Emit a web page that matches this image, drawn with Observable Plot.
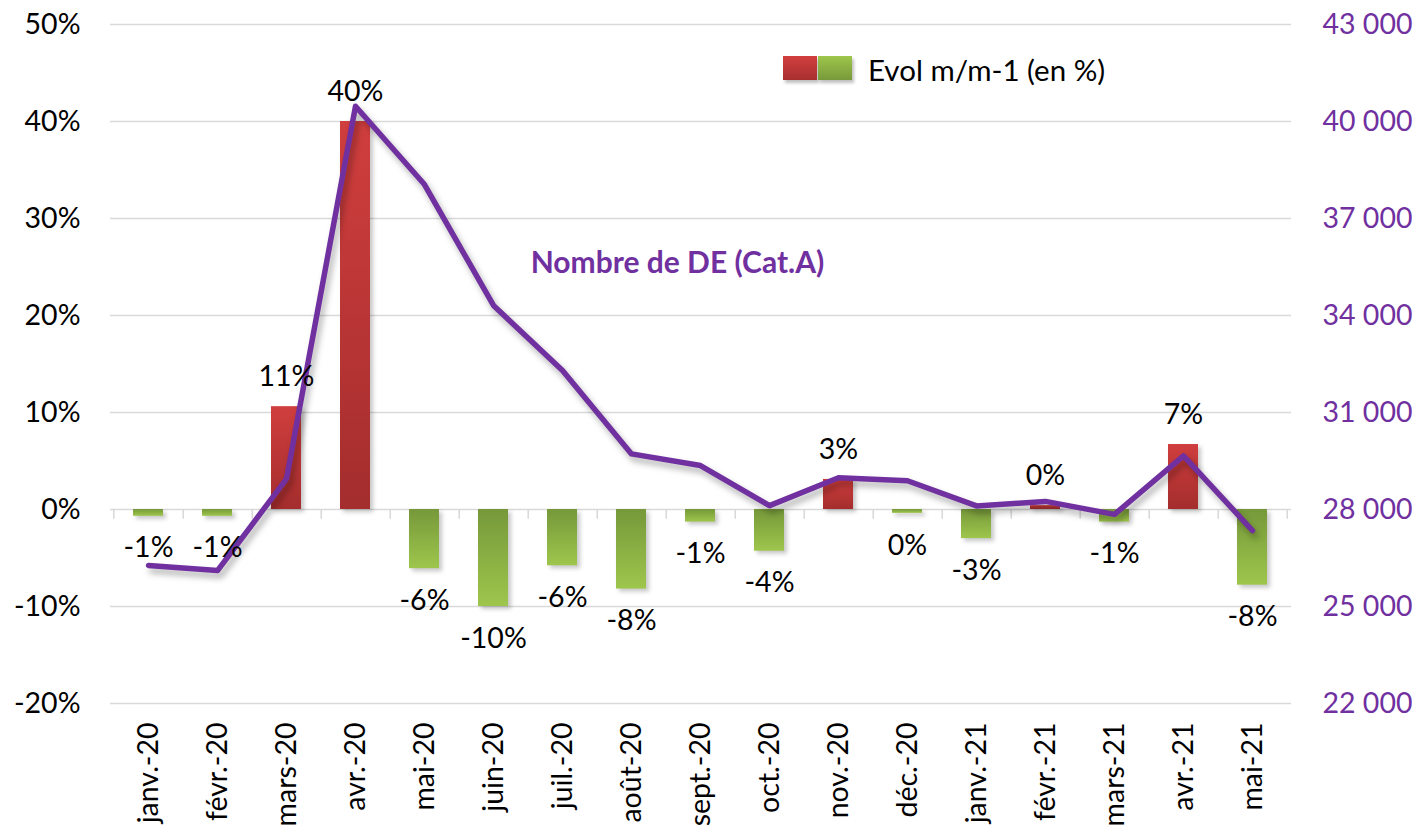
<!DOCTYPE html>
<html><head><meta charset="utf-8">
<script src="https://cdn.jsdelivr.net/npm/d3@7"></script>
<script src="https://cdn.jsdelivr.net/npm/@observablehq/plot@0.6"></script>
<style>
body{margin:0;background:#fff;font-family:Lato,"Open Sans",sans-serif;}
#wrap{position:relative;width:1412px;height:833px;}
#legend{position:absolute;left:783px;top:56px;height:25px;}
.sw{position:absolute;top:0;width:34px;height:24px;box-shadow:2px 3px 3px rgba(0,0,0,0.25);}
#sw1{left:0;background:linear-gradient(#d23f3f,#a82f2f);}
#sw2{left:35px;background:linear-gradient(#9ec64c,#78993a);}
#legtxt{position:absolute;left:85px;top:-4px;font-size:29.5px;white-space:nowrap;color:#000;}
</style></head><body>
<div id="wrap"><div id="legend"><div class="sw" id="sw1"></div><div class="sw" id="sw2"></div><div id="legtxt">Evol m/m-1 (en %)</div></div></div>
<script>
const months = ["janv.-20","févr.-20","mars-20","avr.-20","mai-20","juin-20","juil.-20","août-20","sept.-20","oct.-20","nov.-20","déc.-20","janv.-21","févr.-21","mars-21","avr.-21","mai-21"];
const evol = [-0.7,-0.7,10.6,40.0,-6.1,-10.0,-5.8,-8.2,-1.3,-4.3,3.1,-0.4,-3.0,0.4,-1.3,6.7,-7.8];
const nombre = [26270,26110,28950,40470,38050,34310,32300,29720,29360,28120,28980,28890,28110,28250,27850,29660,27350];
const leftTicks = [-20,-10,0,10,20,30,40,50];
const rightTicks = [22000,25000,28000,31000,34000,37000,40000,43000];
const lineTitle = "Nombre de DE (Cat.A)";

const BASE = 28000, PER10 = 3000;
const toPct = v => (v - BASE) / PER10 * 10;
const fromPct = p => BASE + p / 10 * PER10;
const fmt = v => d3.format(",")(Math.round(v)).replace(/,/g, "\u00a0");
const data = months.map((m, i) => ({month: m, evol: evol[i], nombre: nombre[i]}));
const pos = data.filter(d => d.evol >= 0);
const neg = data.filter(d => d.evol < 0);
const label = d => `${Math.round(d.evol) === 0 ? 0 : Math.round(d.evol)}%`;

const W = 1412, H = 833, ML = 110, MR = 121;
const step = (W - ML - MR) / months.length;
const purple = "#7030a0";

const svg = Plot.plot({
  width: W, height: H,
  marginLeft: ML, marginRight: MR, marginTop: 24, marginBottom: 130,
  style: {fontFamily: "Lato, 'Open Sans', sans-serif", fontSize: "28.5px", color: "#000", background: "#fff"},
  x: {domain: months, paddingInner: 0.56, paddingOuter: 0.28, label: null},
  y: {domain: [-20, 50], label: null},
  marks: [
    Plot.gridY(leftTicks, {stroke: "#d9d9d9", strokeOpacity: 1, strokeWidth: 1.6}),
    Plot.ruleX(months, {x: d => d, y1: 0, y2: -1, dx: step / 2, stroke: "#d9d9d9", strokeWidth: 1.6}),
    Plot.ruleX(months.slice(0, 1), {x: d => d, y1: 0, y2: -1, dx: -step / 2, stroke: "#d9d9d9", strokeWidth: 1.6}),
    Plot.barY(pos, {x: "month", y: "evol", fill: "url(#gradRed)"}),
    Plot.barY(neg, {x: "month", y: "evol", fill: "url(#gradGreen)"}),
    Plot.line(data, {x: "month", y: d => toPct(d.nombre), stroke: purple, strokeWidth: 5.5, strokeLinejoin: "round"}),
    Plot.text(pos, {x: "month", y: "evol", text: label, dy: -30, fill: "#000"}),
    Plot.text(neg, {x: "month", y: "evol", text: label, dy: 32, fill: "#000"}),
    Plot.text([lineTitle], {x: () => "août-20", y: () => 25.4, text: d => d, dx: 46, fill: purple, fontWeight: "bold", fontSize: 30}),
    Plot.axisY(leftTicks, {anchor: "left", tickSize: 0, tickPadding: 30, tickFormat: d => `${d}%`, label: null}),
    Plot.axisY(rightTicks.map(toPct), {anchor: "right", tickSize: 0, tickPadding: 31, tickFormat: p => fmt(fromPct(p)), color: purple, label: null}),
    Plot.axisX({tickRotate: -90, tickSize: 0, tickPadding: 19, label: null})
  ]
});

const s = d3.select(svg);
const defs = s.insert("defs", ":first-child");
const gr = defs.append("linearGradient").attr("id", "gradRed").attr("x1", 0).attr("y1", 0).attr("x2", 0).attr("y2", 1);
gr.append("stop").attr("offset", "0%").attr("stop-color", "#d03e3e");
gr.append("stop").attr("offset", "100%").attr("stop-color", "#a42d2d");
const gg = defs.append("linearGradient").attr("id", "gradGreen").attr("x1", 0).attr("y1", 0).attr("x2", 0).attr("y2", 1);
gg.append("stop").attr("offset", "0%").attr("stop-color", "#76983a");
gg.append("stop").attr("offset", "100%").attr("stop-color", "#9ec64c");
s.selectAll('g[aria-label="bar"]').style("filter", "drop-shadow(3px 3px 2px rgba(0,0,0,0.22))");
s.selectAll('g[aria-label="line"]').style("filter", "drop-shadow(3px 5px 3px rgba(0,0,0,0.3))");

const wrap = document.getElementById("wrap");
wrap.insertBefore(svg, wrap.firstChild);
svg.style.position = "absolute";
svg.style.left = "0";
svg.style.top = "0";
</script>
</body></html>
